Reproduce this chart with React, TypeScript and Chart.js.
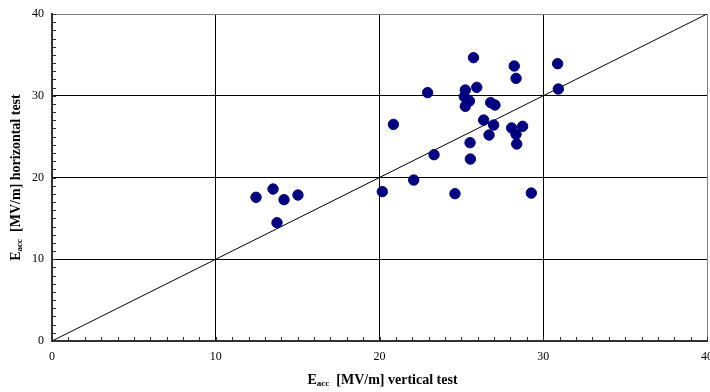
import React, { useEffect, useRef } from "react";
import { Chart, registerables } from "chart.js";

Chart.register(...registerables);

// E_acc [MV/m] vertical test (x) vs horizontal test (y)
const verticalTest = [
  25.74, 28.23, 30.88, 28.34, 30.92, 25.94, 25.24, 22.94, 25.18, 25.49, 25.24,
  26.79, 27.05, 20.85, 26.36, 26.97, 28.07, 28.74, 28.34, 26.69, 25.53, 28.38,
  23.33, 25.55, 22.09, 20.17, 24.61, 29.27, 13.5, 12.46, 14.17, 15.02, 13.74,
];
const horizontalTest = [
  34.66, 33.64, 33.92, 32.13, 30.83, 31.03, 30.7, 30.38, 29.89, 29.36, 28.71,
  29.16, 28.87, 26.5, 27.03, 26.42, 26.06, 26.26, 25.28, 25.2, 24.26, 24.1,
  22.79, 22.26, 19.69, 18.27, 18.02, 18.1, 18.59, 17.58, 17.29, 17.86, 14.47,
];
const diagonalX = [0, 40];
const diagonalY = [0, 40];
const axisMin = 0;
const axisMax = 40;
const majorStep = 10;
const minorStep = 1;

const xTitle = ["E", "acc", "  [MV/m] vertical test"];
const yTitle = ["E", "acc", "  [MV/m] horizontal test"];

const FONT = '"Liberation Serif", "Times New Roman", serif';

function drawTitle(ctx: CanvasRenderingContext2D, parts: string[], cx: number, cy: number, rotate: boolean) {
  ctx.save();
  ctx.translate(cx, cy);
  if (rotate) ctx.rotate(-Math.PI / 2);
  ctx.fillStyle = "#000";
  ctx.textBaseline = "middle";
  ctx.textAlign = "left";
  const big = `bold 14px ${FONT}`;
  const small = `bold 9px ${FONT}`;
  ctx.font = big;
  const w0 = ctx.measureText(parts[0]).width;
  const w2 = ctx.measureText(parts[2]).width;
  ctx.font = small;
  const w1 = ctx.measureText(parts[1]).width;
  const total = w0 + w1 + w2;
  let x = -total / 2;
  ctx.font = big;
  ctx.fillText(parts[0], x, 0);
  x += w0;
  ctx.font = small;
  ctx.fillText(parts[1], x, 4);
  x += w1;
  ctx.font = big;
  ctx.fillText(parts[2], x, 0);
  ctx.restore();
}

const decorPlugin = {
  id: "decor",
  afterDraw(chart: any) {
    const { ctx, chartArea, scales } = chart;
    const xs = scales.x;
    const ys = scales.y;
    ctx.save();
    ctx.strokeStyle = "#333";
    ctx.lineWidth = 1;
    ctx.beginPath();
    for (let v = axisMin; v <= axisMax; v += minorStep) {
      const px = Math.round(xs.getPixelForValue(v)) + 0.5;
      ctx.moveTo(px, chartArea.bottom);
      ctx.lineTo(px, chartArea.bottom - 4);
      const py = Math.round(ys.getPixelForValue(v)) + 0.5;
      ctx.moveTo(chartArea.left, py);
      ctx.lineTo(chartArea.left + 4, py);
    }
    ctx.stroke();
    ctx.restore();
    drawTitle(ctx, xTitle, (chartArea.left + chartArea.right) / 2 + 3, 380, false);
    drawTitle(ctx, yTitle, 16, (chartArea.top + chartArea.bottom) / 2, true);
  },
};

export default function App() {
  const ref = useRef<HTMLCanvasElement | null>(null);
  useEffect(() => {
    if (!ref.current) return;
    const gridColor = (c: any) => {
      const v = c.tick ? c.tick.value : null;
      if (v === axisMin) return "rgba(0,0,0,0)";
      if (v === axisMax) return "#808080";
      return "#000";
    };
    const chart = new Chart(ref.current, {
      type: "scatter",
      data: {
        datasets: [
          {
            label: "points",
            data: verticalTest.map((x, i) => ({ x, y: horizontalTest[i] })),
            backgroundColor: "#000080",
            borderColor: "#000080",
            borderWidth: 1,
            pointRadius: 5.2,
            order: 0,
          },
          {
            label: "diagonal",
            data: diagonalX.map((x, i) => ({ x, y: diagonalY[i] })),
            showLine: true,
            borderColor: "#000",
            borderWidth: 1,
            pointRadius: 0,
            order: 1,
          } as any,
        ],
      },
      options: {
        responsive: false,
        animation: false,
        layout: { autoPadding: false, padding: { top: 14, right: 3, left: 0, bottom: 0 } },
        plugins: { legend: { display: false }, tooltip: { enabled: false } },
        scales: {
          x: {
            type: "linear",
            min: axisMin,
            max: axisMax,
            afterFit: (s: any) => {
              s.height = 51;
              s.paddingLeft = 0;
              s.paddingRight = 0;
            },
            ticks: {
              stepSize: majorStep,
              color: "#000",
              font: { family: FONT, size: 12 },
              padding: 9,
              maxRotation: 0,
            },
            grid: { color: gridColor, lineWidth: 1, drawTicks: false },
            border: { color: "#333", width: 2 },
          },
          y: {
            type: "linear",
            min: axisMin,
            max: axisMax,
            afterFit: (s: any) => {
              s.width = 52;
              s.paddingTop = 0;
              s.paddingBottom = 0;
            },
            ticks: {
              stepSize: majorStep,
              color: "#000",
              font: { family: FONT, size: 12 },
              padding: 8,
            },
            grid: { color: gridColor, lineWidth: 1, drawTicks: false },
            border: { color: "#333", width: 2 },
          },
        },
      },
      plugins: [decorPlugin],
    });
    return () => chart.destroy();
  }, []);
  return (
    <div style={{ position: "fixed", left: 0, top: 0, width: 710, height: 392, background: "#fff" }}>
      <canvas ref={ref} width={710} height={392} />
    </div>
  );
}
